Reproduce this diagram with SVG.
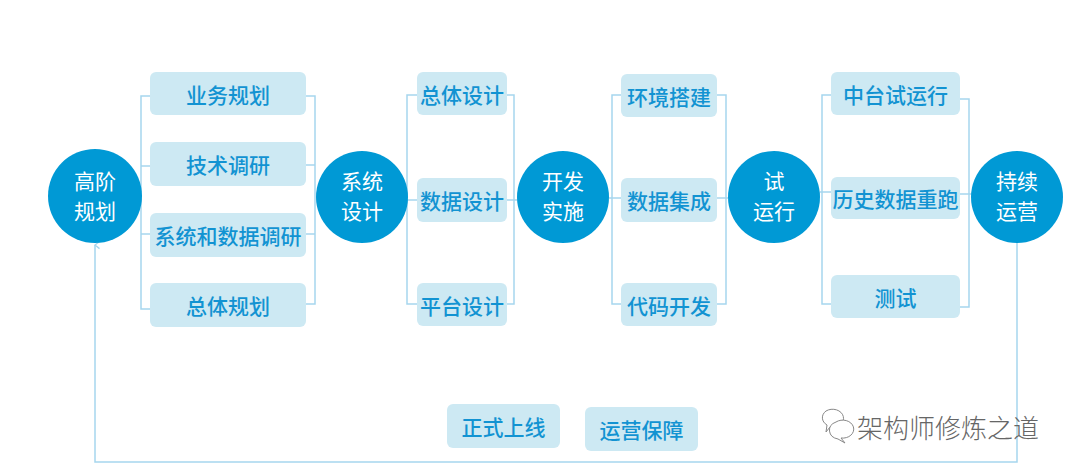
<svg xmlns="http://www.w3.org/2000/svg" width="1080" height="475" viewBox="0 0 1080 475">
<defs>
<style>
.c{fill:#0099d5}
.ct{fill:#ffffff;font-family:"Noto Sans CJK SC","Noto Sans",sans-serif;font-size:21px;text-anchor:middle}
.b{fill:#cde9f3}
.bt{fill:#1293d2;font-family:"Noto Sans CJK SC","Noto Sans",sans-serif;font-size:21px;font-weight:500;text-anchor:middle;dominant-baseline:central}
.ln{fill:none;stroke:#a6d6ee;stroke-width:1.5}
.wm{fill:#ffffff;stroke:#888888;stroke-width:1}
</style>
<marker id="arr" viewBox="0 0 10 10" refX="5" refY="1" markerWidth="9" markerHeight="9" orient="auto-start-reverse" markerUnits="userSpaceOnUse">
<path d="M1,6 L5,1 L9,6" fill="none" stroke="#a6d6ee" stroke-width="1.5"/>
</marker>
</defs>
<rect width="1080" height="475" fill="#ffffff"/>

<g id="connectors">
<path class="ln" d="M150,96 H141 V309 H150 M141,166 H150 M141,234 H150"/>
<path class="ln" d="M306,96 H315 V304 H306 M306,165 H315 M306,234 H315"/>
<path class="ln" d="M417,95 H407 V304 H417 M407,200 H417"/>
<path class="ln" d="M507,95 H514 V304 H507 M507,200 H517"/>
<path class="ln" d="M609,198 H621 M621,95 H612 V304 H621"/>
<path class="ln" d="M717,95 H726 V304 H717 M717,198 H728"/>
<path class="ln" d="M820,192 H831 M831,95 H822 V304 H831"/>
<path class="ln" d="M960,99 H969 V307 H960 M960,194 H971"/>
<path class="ln" d="M1017,243 V462 H95 V245" marker-end="url(#arr)"/>
</g>

<g id="n-gaojie"><circle class="c" cx="95" cy="196" r="47"/><text class="ct" x="95" y="189">高阶</text><text class="ct" x="95" y="219">规划</text></g>
<g id="n-yewu"><rect class="b" x="150" y="72" width="156" height="43" rx="6"/><text class="bt" x="228" y="93.5">业务规划</text></g>
<g id="n-jishu"><rect class="b" x="150" y="142" width="156" height="44" rx="6"/><text class="bt" x="228" y="164">技术调研</text></g>
<g id="n-xitong-shuju"><rect class="b" x="150" y="213" width="156" height="44" rx="6"/><text class="bt" x="228" y="235">系统和数据调研</text></g>
<g id="n-zongti-guihua"><rect class="b" x="150" y="283" width="156" height="44" rx="6"/><text class="bt" x="228" y="305">总体规划</text></g>

<g id="n-xitongsheji"><circle class="c" cx="362" cy="197" r="46"/><text class="ct" x="362" y="189">系统</text><text class="ct" x="362" y="219">设计</text></g>
<g id="n-zongti-sheji"><rect class="b" x="417" y="72" width="90" height="43" rx="6"/><text class="bt" x="462" y="93.5">总体设计</text></g>
<g id="n-shuju-sheji"><rect class="b" x="417" y="178" width="90" height="44" rx="6"/><text class="bt" x="462" y="200">数据设计</text></g>
<g id="n-pingtai"><rect class="b" x="417" y="283" width="90" height="43" rx="6"/><text class="bt" x="462" y="304.5">平台设计</text></g>

<g id="n-kaifa"><circle class="c" cx="563" cy="197" r="46"/><text class="ct" x="563" y="189">开发</text><text class="ct" x="563" y="219">实施</text></g>
<g id="n-huanjing"><rect class="b" x="621" y="74" width="96" height="43" rx="6"/><text class="bt" x="669" y="95.5">环境搭建</text></g>
<g id="n-jicheng"><rect class="b" x="621" y="178" width="96" height="44" rx="6"/><text class="bt" x="669" y="200">数据集成</text></g>
<g id="n-daima"><rect class="b" x="621" y="283" width="96" height="43" rx="6"/><text class="bt" x="669" y="304.5">代码开发</text></g>

<g id="n-shiyunxing"><circle class="c" cx="774" cy="197" r="46"/><text class="ct" x="774" y="189">试</text><text class="ct" x="774" y="219">运行</text></g>
<g id="n-zhongtai"><rect class="b" x="831" y="72" width="129" height="43" rx="6"/><text class="bt" x="895.5" y="93.5">中台试运行</text></g>
<g id="n-lishi"><rect class="b" x="831" y="177" width="129" height="42" rx="6"/><text class="bt" x="895.5" y="198">历史数据重跑</text></g>
<g id="n-ceshi"><rect class="b" x="831" y="275" width="129" height="43" rx="6"/><text class="bt" x="895.5" y="296.5">测试</text></g>

<g id="n-chixu"><circle class="c" cx="1017" cy="197" r="46"/><text class="ct" x="1017" y="189">持续</text><text class="ct" x="1017" y="219">运营</text></g>

<g id="n-shangxian"><rect class="b" x="447" y="404" width="113" height="44" rx="6"/><text class="bt" x="503.5" y="426">正式上线</text></g>
<g id="n-baozhang"><rect class="b" x="585" y="407" width="113" height="44" rx="6"/><text class="bt" x="641.5" y="429">运营保障</text></g>

<g id="watermark">
<path class="wm" d="M826,411 a11,9 0 1,1 4,16 l-4,5 l1,-7 a11,9 0 0,1 -1,-14 z"/>
<path class="wm" d="M836,422 a11,9 0 1,1 5,16 l4,5 l-7,-4 a11,9 0 0,1 -2,-17 z"/>
<text x="857" y="438" fill="#666666" font-family="'Noto Sans CJK SC','Noto Sans',sans-serif" font-size="26" font-weight="300">架构师修炼之道</text>
</g>
</svg>
